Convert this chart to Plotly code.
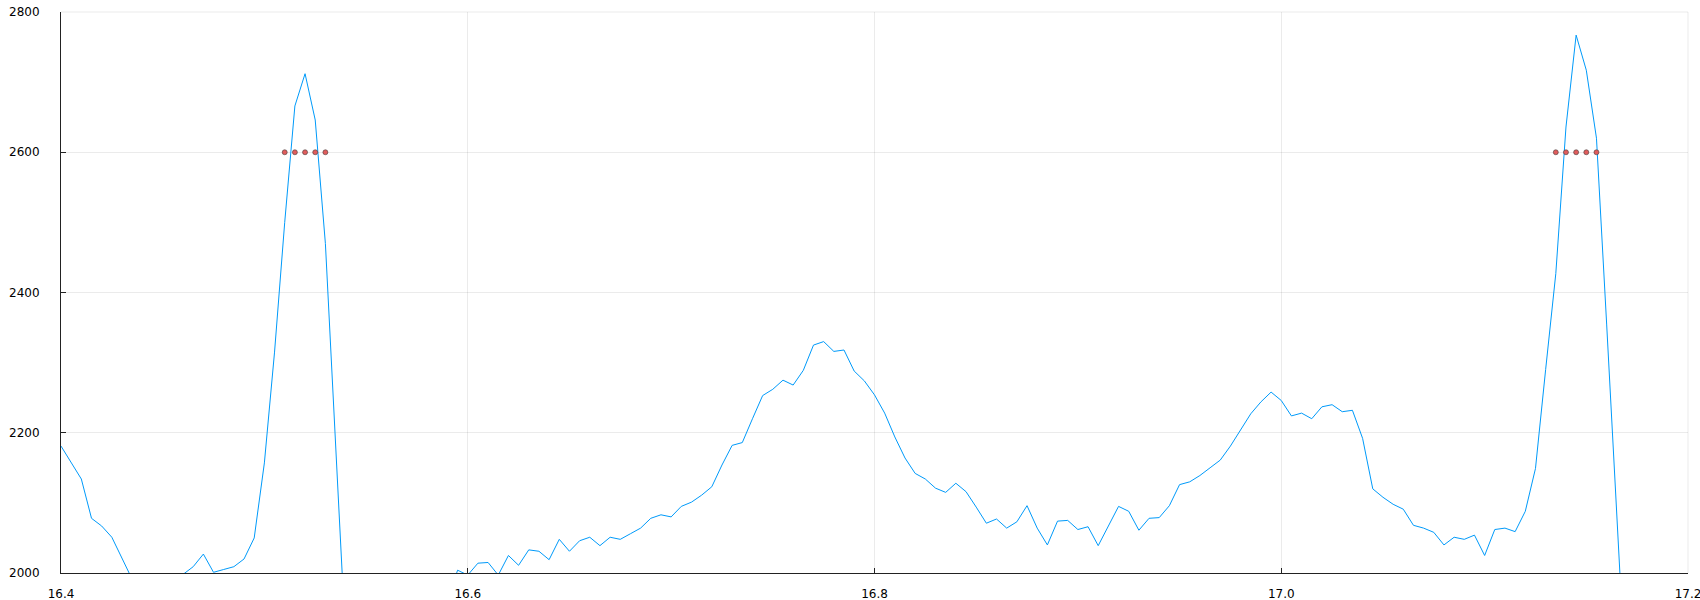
import numpy as np
import plotly.graph_objects as go

# sample grid (x = 16.4 ... 17.2, step 0.005)
x_start = 16.4
x_step = 0.005

signal = [
    2181, 2158, 2134, 2078, 2067, 2051, 2021, 1991, 1970, 1955,
    1960, 1980, 1998, 2009, 2027, 2001, 2005, 2009, 2020, 2050,
    2157, 2315, 2500, 2666, 2712, 2646, 2470, 2190, 1900, 1850,
    1830, 1840, 1860, 1880, 1900, 1910, 1925, 1940, 1960, 2004,
    1997, 2014, 2015, 1997, 2025, 2011, 2033, 2031, 2019, 2048,
    2031, 2046, 2051, 2039, 2051, 2048, 2056, 2064, 2078, 2083,
    2080, 2095, 2101, 2111, 2123, 2154, 2182, 2186, 2220, 2253,
    2262, 2275, 2268, 2289, 2325, 2330, 2316, 2318, 2288, 2274,
    2254, 2228, 2194, 2164, 2142, 2134, 2121, 2115, 2128, 2116,
    2094, 2071, 2077, 2064, 2073, 2096, 2064, 2040, 2074, 2075,
    2062, 2066, 2039, 2068, 2095, 2088, 2061, 2078, 2079, 2096,
    2126, 2130, 2139, 2150, 2161, 2181, 2204, 2227, 2244, 2258,
    2246, 2224, 2228, 2220, 2237, 2240, 2230, 2232, 2192, 2120,
    2108, 2098, 2091, 2068, 2064, 2058, 2040, 2051, 2048, 2054,
    2025, 2062, 2064, 2059, 2088, 2149, 2290, 2427, 2636, 2767,
    2717, 2620, 2355, 2081, 1810, 1700, 1650, 1640, 1660, 1680,
    1700,
]

marker_x = [16.510, 16.515, 16.520, 16.525, 16.530,
            17.135, 17.140, 17.145, 17.150, 17.155]
marker_y = [2600] * len(marker_x)

x_ticks = [16.4, 16.6, 16.8, 17.0, 17.2]
x_tick_labels = ["16.4", "16.6", "16.8", "17.0", "17.2"]
y_ticks = [2000, 2200, 2400, 2600, 2800]
y_tick_labels = ["2000", "2200", "2400", "2600", "2800"]

x = np.round(x_start + x_step * np.arange(len(signal)), 4)

fig = go.Figure()
fig.add_trace(go.Scatter(
    x=x, y=signal, mode="lines",
    line=dict(color="#009AFA", width=1),
    showlegend=False, hoverinfo="skip",
))
fig.add_trace(go.Scatter(
    x=marker_x, y=marker_y, mode="markers",
    marker=dict(color="#E05C5C", size=5,
                line=dict(color="rgba(60,60,60,0.7)", width=0.8)),
    showlegend=False, hoverinfo="skip",
))

axis_common = dict(
    showgrid=True, gridcolor="rgba(0,0,0,0.08)", gridwidth=1,
    showline=True, linecolor="#222222", linewidth=1,
    ticks="inside", ticklen=5, tickcolor="#222222", tickwidth=1,
    tickfont=dict(family="DejaVu Sans", size=12, color="#000000"),
    zeroline=False, mirror=False, automargin=False,
    ticklabeloverflow="allow",
)

fig.update_xaxes(range=[16.4, 17.2], tickvals=x_ticks, ticktext=x_tick_labels,
                 ticklabelstandoff=10, **axis_common)
fig.update_yaxes(range=[2000, 2800], tickvals=y_ticks, ticktext=y_tick_labels,
                 ticklabelstandoff=18, **axis_common)

# faint frame at top / right (grid lines at range ends)
fig.add_shape(type="line", xref="paper", yref="paper", x0=0, x1=1, y0=1, y1=1,
              line=dict(color="rgba(0,0,0,0.08)", width=1))
fig.add_shape(type="line", xref="paper", yref="paper", x0=1, x1=1, y0=0, y1=1,
              line=dict(color="rgba(0,0,0,0.08)", width=1))

fig.update_layout(
    width=1700, height=600,
    margin=dict(l=61, r=12, t=12, b=27, autoexpand=False),
    plot_bgcolor="white", paper_bgcolor="white",
)

fig.write_html(
    "out.html",
    config={"displayModeBar": False},
    post_script="document.body.style.margin='0px';"
                "document.body.style.overflow='hidden';",
)
